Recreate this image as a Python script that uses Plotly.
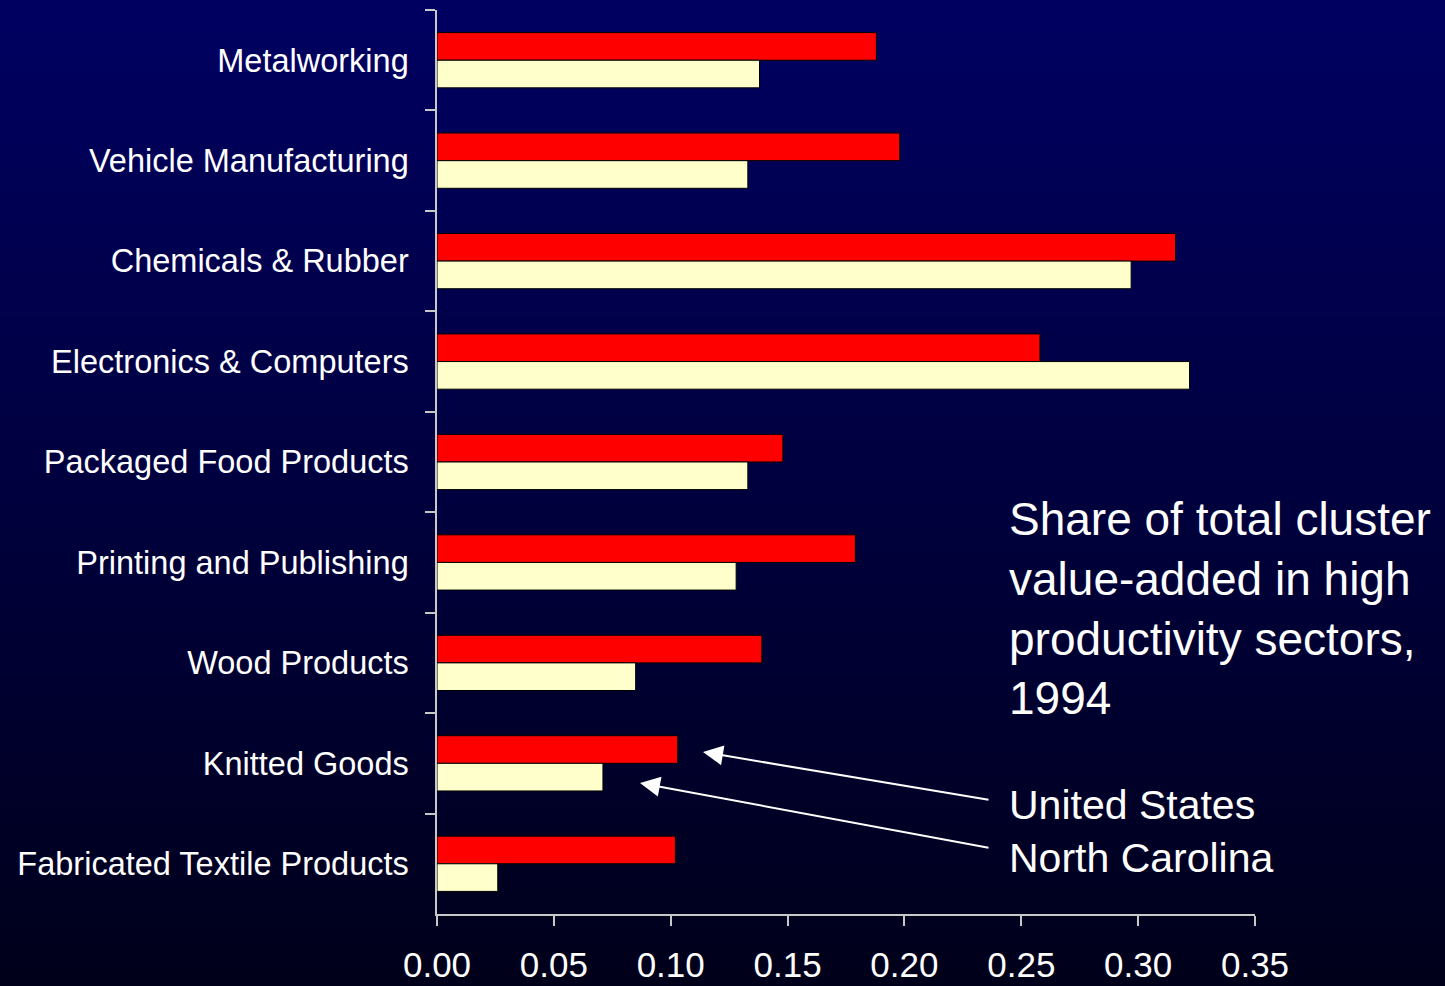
import plotly.graph_objects as go

# Cluster categories, listed top to bottom
sectors = [
    "Metalworking",
    "Vehicle Manufacturing",
    "Chemicals & Rubber",
    "Electronics & Computers",
    "Packaged Food Products",
    "Printing and Publishing",
    "Wood Products",
    "Knitted Goods",
    "Fabricated Textile Products",
]

# Share of total cluster value-added in high productivity sectors, 1994
united_states = [0.188, 0.198, 0.316, 0.258, 0.148, 0.179, 0.139, 0.103, 0.102]
north_carolina = [0.138, 0.133, 0.297, 0.322, 0.133, 0.128, 0.085, 0.071, 0.026]

x_ticks = [0.00, 0.05, 0.10, 0.15, 0.20, 0.25, 0.30, 0.35]

W, H = 1445, 986
ML, MR, MT, MB = 437, 190, 10, 72
PW, PH = W - ML - MR, H - MT - MB

fig = go.Figure()
fig.add_trace(go.Bar(
    y=sectors, x=united_states, orientation="h", name="United States",
    marker=dict(color="#FF0000", line=dict(color="#000000", width=1)),
))
fig.add_trace(go.Bar(
    y=sectors, x=north_carolina, orientation="h", name="North Carolina",
    marker=dict(color="#FFFFCC", line=dict(color="#000000", width=1)),
))

# Vertical navy-to-black gradient behind everything
shapes = []
n_strips = 120
x_left, x_right = -ML / PW - 0.01, 1 + MR / PW + 0.01
y_bot, y_top = -MB / PH - 0.01, 1 + MT / PH + 0.01
top_rgb = (0, 0, 98)
bot_rgb = (0, 0, 26)
for i in range(n_strips):
    t = i / (n_strips - 1)
    r = round(top_rgb[0] + (bot_rgb[0] - top_rgb[0]) * t)
    g = round(top_rgb[1] + (bot_rgb[1] - top_rgb[1]) * t)
    b = round(top_rgb[2] + (bot_rgb[2] - top_rgb[2]) * t)
    y1 = y_top - (y_top - y_bot) * i / n_strips
    y0 = y_top - (y_top - y_bot) * (i + 1) / n_strips
    shapes.append(dict(
        type="rect", xref="paper", yref="paper",
        x0=x_left, x1=x_right, y0=y0 - 0.002, y1=y1,
        fillcolor=f"rgb({r},{g},{b})", line=dict(width=0), layer="below",
    ))

axis_color = "#C8C8C8"
font_main = "Liberation Sans, Arial, sans-serif"

def px_to_paper_y(py):
    return (H - MB - py) / PH

def px_to_paper_x(px):
    return (px - ML) / PW

annotations = [
    dict(
        text="Share of total cluster<br>value-added in high<br>productivity sectors,<br>1994",
        xref="paper", yref="paper",
        x=px_to_paper_x(1007), y=px_to_paper_y(491),
        xanchor="left", yanchor="top", align="left", showarrow=False,
        font=dict(family=font_main, size=46, color="#FFFFFF"),
    ),
    dict(
        text="United States<br>North Carolina",
        xref="paper", yref="paper",
        x=px_to_paper_x(1007), y=px_to_paper_y(780),
        xanchor="left", yanchor="top", align="left", showarrow=False,
        font=dict(family=font_main, size=41, color="#FFFFFF"),
    ),
    dict(
        text="", xref="paper", yref="paper",
        x=px_to_paper_x(703), y=px_to_paper_y(752),
        ax=990 - 703, ay=800 - 752, axref="pixel", ayref="pixel",
        showarrow=True, arrowhead=2, arrowsize=2, arrowwidth=2,
        arrowcolor="#FFFFFF",
    ),
    dict(
        text="", xref="paper", yref="paper",
        x=px_to_paper_x(640), y=px_to_paper_y(783),
        ax=990 - 640, ay=848 - 783, axref="pixel", ayref="pixel",
        showarrow=True, arrowhead=2, arrowsize=2, arrowwidth=2,
        arrowcolor="#FFFFFF",
    ),
]

fig.update_layout(
    width=W, height=H,
    margin=dict(l=ML, r=MR, t=MT, b=MB, pad=0, autoexpand=False),
    paper_bgcolor="#00001A",
    plot_bgcolor="rgba(0,0,0,0)",
    barmode="group", bargap=0.45, bargroupgap=0.0,
    showlegend=False,
    shapes=shapes,
    annotations=annotations,
    xaxis=dict(
        range=[0, 0.35], tickvals=x_ticks, tickformat=".2f",
        showgrid=False, zeroline=False, automargin=False,
        showline=True, linecolor=axis_color, linewidth=1.5,
        ticks="outside", ticklen=10, tickwidth=1.5, tickcolor=axis_color,
        tickfont=dict(family=font_main, size=35, color="#FFFFFF"),
        ticklabelstandoff=9,
        fixedrange=True,
    ),
    yaxis=dict(
        autorange="reversed", type="category",
        showgrid=False, zeroline=False, automargin=False,
        showline=True, linecolor=axis_color, linewidth=1.5,
        ticks="outside", ticklen=10, tickwidth=1.5, tickcolor=axis_color,
        tickson="boundaries",
        tickfont=dict(family=font_main, size=32.5, color="#FFFFFF"),
        ticklabelstandoff=20,
        fixedrange=True,
    ),
)

fig.write_html("out.html")
